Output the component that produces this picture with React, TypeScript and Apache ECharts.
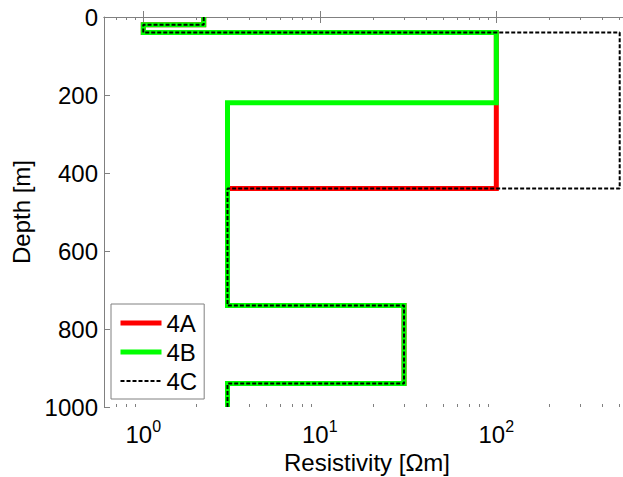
import React, { useEffect, useRef } from "react";
import * as echarts from "echarts";

const seriesNames = ["4A", "4B", "4C"];
const colors = ["#ff0000", "#00ff00", "#000000"];
// layer boundaries (depth, m) and layer resistivities (Ohm m)
const depthsA = [0, 20, 40, 440, 740, 940, 1000];
const rhoA = [2.2, 1, 100, 3, 30, 3];
const depthsB = [0, 20, 40, 220, 740, 940, 1000];
const rhoB = [2.2, 1, 100, 3, 30, 3];
const depthsC = [0, 20, 40, 440, 740, 940, 1000];
const rhoC = [2.2, 1, 500, 3, 30, 3];

const majorTicks = [1, 10, 100];
const minorTicks = [0.7, 0.8, 0.9, 2, 3, 4, 5, 6, 7, 8, 9, 20, 30, 40, 50, 60, 70, 80, 90, 200, 300, 400, 500];
const yTicks = [0, 200, 400, 600, 800, 1000];

function steps(depths: number[], rho: number[]) {
  const pts: number[][] = [];
  for (let i = 0; i < rho.length; i++) {
    pts.push([rho[i], depths[i]]);
    pts.push([rho[i], depths[i + 1]]);
  }
  return pts;
}

const FONT = "'Liberation Sans', Arial, sans-serif";
const AX = "#808080";
const FS = 24;

export default function App() {
  const ref = useRef<HTMLDivElement>(null);
  useEffect(() => {
    if (!ref.current) return;
    const chart = echarts.init(ref.current, undefined, { renderer: "svg" });
    const xBase = {
      type: "log" as const,
      logBase: 10,
      min: 0.599,
      max: 522,
      gridIndex: 0,
      splitLine: { show: false },
    };
    chart.setOption({
      animation: false,
      backgroundColor: "#ffffff",
      textStyle: { fontFamily: FONT },
      grid: { left: 104, top: 17, right: 0, height: 390, containLabel: false, outerBoundsMode: "none" },
      legend: {
        orient: "vertical",
        left: 111,
        top: 304,
        itemWidth: 41,
        itemHeight: 14,
        itemGap: 5,
        padding: [7, 7, 6, 7],
        borderColor: AX,
        borderWidth: 1,
        backgroundColor: "#ffffff",
        textStyle: { fontSize: FS, lineHeight: 24, color: "#000", fontFamily: FONT },
        lineStyle: { width: "inherit" },
        itemStyle: { opacity: 0, borderWidth: 0 },
        data: seriesNames,
      },
      xAxis: [
        {
          ...xBase,
          position: "bottom",
          name: "Resistivity [\u03a9m]",
          nameLocation: "middle",
          nameGap: 34,
          nameTextStyle: { fontSize: FS, color: "#000", fontFamily: FONT, padding: [0, 0, 0, 7] },
          axisLine: { show: true, lineStyle: { color: AX, width: 1 } },
          axisTick: { show: true, inside: true, length: 6, customValues: majorTicks, lineStyle: { color: AX } },
          axisLabel: {
            show: true,
            customValues: majorTicks,
            margin: 11,
            color: "#000",
            formatter: (v: number) => `{b|10}{s|${Math.round(Math.log10(v))}}`,
            rich: {
              b: { fontSize: FS, lineHeight: 32, fontFamily: FONT, color: "#000" },
              s: { fontSize: 16, lineHeight: 16, verticalAlign: "top", fontFamily: FONT, color: "#000" },
            },
          },
        },
        {
          ...xBase,
          position: "bottom",
          axisLine: { show: false },
          axisTick: { show: true, inside: true, length: 3, customValues: minorTicks, lineStyle: { color: AX } },
          axisLabel: { show: false },
        },
        {
          ...xBase,
          position: "top",
          axisLine: { show: true, lineStyle: { color: AX, width: 1 } },
          axisTick: { show: true, inside: true, length: 6, customValues: majorTicks, lineStyle: { color: AX } },
          axisLabel: { show: false },
        },
        {
          ...xBase,
          position: "top",
          axisLine: { show: false },
          axisTick: { show: true, inside: true, length: 3, customValues: minorTicks, lineStyle: { color: AX } },
          axisLabel: { show: false },
        },
      ],
      yAxis: [
        {
          type: "value",
          inverse: true,
          min: 0,
          max: 1000,
          interval: 200,
          name: "Depth [m]",
          nameLocation: "middle",
          nameGap: 59,
          nameTextStyle: { fontSize: FS, color: "#000", fontFamily: FONT },
          axisLine: { show: true, lineStyle: { color: AX, width: 1 } },
          axisTick: { show: true, inside: true, length: 6, lineStyle: { color: AX } },
          axisLabel: {
            show: true,
            fontSize: FS,
            margin: 6,
            color: "#000",
            fontFamily: FONT,
            customValues: yTicks,
            formatter: (v: number) => String(v),
          },
          splitLine: { show: false },
        },
      ],
      series: [
        {
          name: seriesNames[0],
          type: "line",
          xAxisIndex: 0,
          yAxisIndex: 0,
          data: steps(depthsA, rhoA),
          symbol: "none",
          lineStyle: { color: colors[0], width: 5, join: "miter" },
          itemStyle: { color: colors[0] },
        },
        {
          name: seriesNames[1],
          type: "line",
          xAxisIndex: 0,
          yAxisIndex: 0,
          data: steps(depthsB, rhoB),
          symbol: "none",
          lineStyle: { color: colors[1], width: 5, join: "miter" },
          itemStyle: { color: colors[1] },
        },
        {
          name: seriesNames[2],
          type: "line",
          xAxisIndex: 0,
          yAxisIndex: 0,
          data: steps(depthsC, rhoC),
          symbol: "none",
          lineStyle: { color: colors[2], width: 2, type: [4, 2] },
          itemStyle: { color: colors[2] },
        },
      ],
    });
    return () => chart.dispose();
  }, []);
  return <div ref={ref} style={{ width: 623, height: 477, position: "absolute", left: 0, top: 0 }} />;
}
